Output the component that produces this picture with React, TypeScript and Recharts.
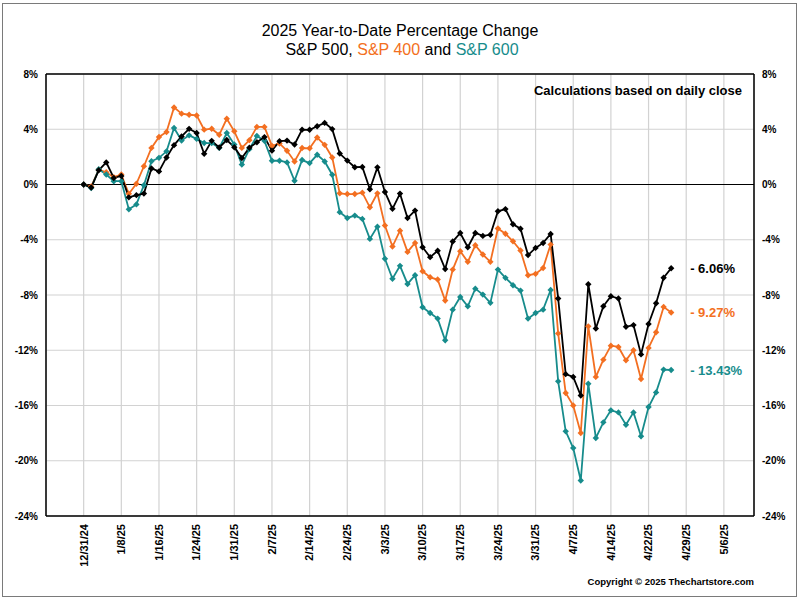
import React from "react";
import {
  LineChart,
  Line,
  XAxis,
  YAxis,
  CartesianGrid,
  ReferenceLine,
  LabelList,
} from "recharts";

// trading days, 12/31/24 .. 4/25/25
const dates = [
  "12/31/24", "1/2/25", "1/3/25", "1/6/25", "1/7/25", "1/8/25", "1/10/25", "1/13/25", "1/14/25", "1/15/25",
  "1/16/25", "1/17/25", "1/21/25", "1/22/25", "1/23/25", "1/24/25", "1/27/25", "1/28/25", "1/29/25", "1/30/25",
  "1/31/25", "2/3/25", "2/4/25", "2/5/25", "2/6/25", "2/7/25", "2/10/25", "2/11/25", "2/12/25", "2/13/25",
  "2/14/25", "2/18/25", "2/19/25", "2/20/25", "2/21/25", "2/24/25", "2/25/25", "2/26/25", "2/27/25", "2/28/25",
  "3/3/25", "3/4/25", "3/5/25", "3/6/25", "3/7/25", "3/10/25", "3/11/25", "3/12/25", "3/13/25", "3/14/25",
  "3/17/25", "3/18/25", "3/19/25", "3/20/25", "3/21/25", "3/24/25", "3/25/25", "3/26/25", "3/27/25", "3/28/25",
  "3/31/25", "4/1/25", "4/2/25", "4/3/25", "4/4/25", "4/7/25", "4/8/25", "4/9/25", "4/10/25", "4/11/25",
  "4/14/25", "4/15/25", "4/16/25", "4/17/25", "4/21/25", "4/22/25", "4/23/25", "4/24/25", "4/25/25",
];

const sp500 = [
  0, -0.22, 1.03, 1.6, 0.47, 0.62, -0.93, -0.77, -0.66, 1.16,
  0.95, 1.96, 2.85, 3.48, 4.03, 3.73, 2.22, 3.16, 2.68, 3.22,
  2.7, 1.92, 2.66, 3.06, 3.43, 2.45, 3.14, 3.18, 2.9, 3.97,
  3.96, 4.22, 4.46, 4.01, 2.24, 1.73, 1.25, 1.27, -0.34, 1.24,
  -0.54, -1.76, -0.66, -2.43, -1.89, -4.54, -5.26, -4.8, -6.12, -4.13,
  -3.51, -4.54, -3.51, -3.72, -3.64, -1.94, -1.78, -2.88, -3.2, -5.11,
  -4.59, -4.23, -3.58, -8.25, -13.73, -13.93, -15.28, -7.22, -10.43, -8.81,
  -8.09, -8.25, -10.3, -10.18, -12.3, -10.1, -8.6, -6.75, -6.06,
];

const sp400 = [
  0, -0.15, 1.08, 0.89, 0.53, 0.72, -0.67, 0.05, 1.32, 2.65,
  3.44, 3.8, 5.58, 5.13, 5.05, 5.0, 3.97, 4.04, 3.6, 4.76,
  3.85, 2.65, 3.21, 4.17, 4.17, 2.8, 2.97, 2.44, 1.67, 2.64,
  2.62, 3.4, 2.87, 1.96, -0.64, -0.69, -0.69, -0.59, -1.65, -0.64,
  -2.97, -4.49, -3.34, -4.88, -4.23, -6.28, -6.72, -6.88, -8.4, -6.16,
  -4.83, -5.6, -4.4, -5.07, -5.6, -3.19, -3.57, -4.11, -4.78, -6.57,
  -6.47, -6.04, -4.35, -10.78, -15.1, -16.0, -17.99, -10.27, -13.93, -12.68,
  -11.67, -11.76, -12.73, -12.0, -14.08, -11.83, -10.7, -8.86, -9.27,
];

const sp600 = [
  0, -0.25, 1.1, 0.72, 0.24, 0.24, -1.8, -1.44, -0.05, 1.68,
  1.93, 2.4, 4.09, 3.18, 3.56, 3.3, 3.0, 3.0, 2.65, 3.73,
  2.9, 1.44, 2.56, 3.52, 3.16, 1.72, 1.72, 1.6, 0.27, 1.77,
  1.55, 2.15, 1.67, 0.71, -2.0, -2.42, -2.25, -2.49, -3.94, -3.05,
  -5.38, -6.82, -5.89, -7.2, -6.57, -8.89, -9.3, -9.71, -11.28, -9.06,
  -8.14, -8.82, -7.54, -7.97, -8.57, -6.16, -6.76, -7.29, -7.68, -9.71,
  -9.3, -9.06, -7.64, -14.25, -17.87, -19.08, -21.43, -14.42, -18.35, -17.22,
  -16.35, -16.5, -17.4, -16.5, -18.23, -16.11, -15.05, -13.4, -13.43,
];

// one label every 5 trading days
const tickLabels = [
  "12/31/24", "1/8/25", "1/16/25", "1/24/25", "1/31/25", "2/7/25", "2/14/25", "2/24/25", "3/3/25",
  "3/10/25", "3/17/25", "3/24/25", "3/31/25", "4/7/25", "4/14/25", "4/22/25", "4/29/25", "5/6/25",
];
const yTicks = [8, 4, 0, -4, -8, -12, -16, -20, -24];

const BLACK = "#000000";
const ORANGE = "#f36f21";
const TEAL = "#178c8c";
const FONT = "Arial, 'Liberation Sans', sans-serif";

const data = dates.map((date, i) => ({
  i,
  date,
  sp500: sp500[i],
  sp400: sp400[i],
  sp600: sp600[i],
}));
const xTicks = tickLabels.map((_, k) => k * 5);
const last = dates.length - 1;

// small tick marks: every half label step on x, every 1% on y
const xMinorTicks = Array.from({ length: 37 }, (_, k) => -2.5 + k * 2.5);
const yMinorTicks = Array.from({ length: 33 }, (_, k) => 8 - k);

const diamond = (color: string) => (props: any) => {
  const { cx, cy, index } = props;
  if (cx == null || cy == null) return <g key={`d-${index}`} />;
  const s = 3.2;
  return (
    <path
      key={`d-${index}`}
      d={`M${cx},${cy - s}L${cx + s},${cy}L${cx},${cy + s}L${cx - s},${cy}Z`}
      fill={color}
    />
  );
};

const endLabel = (color: string) => (props: any) => {
  const { x, y, value, index } = props;
  if (index !== last) return null;
  return (
    <text
      x={Number(x) + 19}
      y={Number(y)}
      dy="0.35em"
      fill={color}
      fontSize={13}
      fontWeight="bold"
      fontFamily={FONT}
    >
      {`- ${Math.abs(Number(value)).toFixed(2)}%`}
    </text>
  );
};

const XTick = (props: any) => {
  const { x, y, payload } = props;
  const label = tickLabels[Math.round(payload.value / 5)] ?? "";
  return (
    <text
      x={x}
      y={y + 2}
      dy="0.35em"
      textAnchor="end"
      transform={`rotate(-90 ${x} ${y + 2})`}
      fontSize={11}
      fontWeight="bold"
      fontFamily={FONT}
      fill="#000"
    >
      {label}
    </text>
  );
};

const yTickStyle = { fontSize: 10, fontWeight: "bold", fill: "#000", fontFamily: FONT };

export default function App() {
  return (
    <div style={{ position: "relative", width: 800, height: 600, fontFamily: FONT, background: "#fff" }}>
      <style>{"body{margin:0}"}</style>
      <LineChart
        width={800}
        height={600}
        data={data}
        margin={{ top: 74, right: 0, bottom: 0, left: 0 }}
      >
        <CartesianGrid stroke="#d2d2d2" strokeWidth={1.2} />
        <XAxis
          xAxisId="minor"
          type="number"
          domain={[-5, 89]}
          ticks={xMinorTicks}
          interval={0}
          height={0}
          mirror
          axisLine={false}
          tick={false}
          tickLine={{ stroke: BLACK }}
          tickSize={3}
          allowDataOverflow
        />
        <XAxis
          type="number"
          dataKey="i"
          domain={[-5, 89]}
          ticks={xTicks}
          interval={0}
          height={84}
          axisLine={{ stroke: BLACK, strokeWidth: 1.5 }}
          tickLine={false}
          tickSize={4}
          tick={<XTick />}
          allowDataOverflow
        />
        <YAxis
          yAxisId="minorLeft"
          domain={[-24, 8]}
          ticks={yMinorTicks}
          interval={0}
          width={0}
          mirror
          axisLine={false}
          tick={false}
          tickLine={{ stroke: BLACK }}
          tickSize={4}
          allowDataOverflow
        />
        <YAxis
          domain={[-24, 8]}
          ticks={yTicks}
          interval={0}
          width={46}
          axisLine={{ stroke: BLACK, strokeWidth: 1.5 }}
          tickLine={false}
          tickSize={0}
          tickMargin={8}
          tick={yTickStyle}
          tickFormatter={(v: number) => `${v}%`}
          allowDataOverflow
        />
        <YAxis
          yAxisId="minorRight"
          orientation="right"
          domain={[-24, 8]}
          ticks={yMinorTicks}
          interval={0}
          width={0}
          mirror
          axisLine={false}
          tick={false}
          tickLine={{ stroke: BLACK }}
          tickSize={4}
          allowDataOverflow
        />
        <YAxis
          yAxisId="right"
          orientation="right"
          domain={[-24, 8]}
          ticks={yTicks}
          interval={0}
          width={46}
          axisLine={{ stroke: BLACK, strokeWidth: 1.5 }}
          tickLine={false}
          tickSize={0}
          tickMargin={8}
          tick={yTickStyle}
          tickFormatter={(v: number) => `${v}%`}
          allowDataOverflow
        />
        <ReferenceLine y={0} stroke={BLACK} strokeWidth={1.2} />
        <ReferenceLine y={8} stroke={BLACK} strokeWidth={1.5} />
        <Line
          dataKey="sp400"
          stroke={ORANGE}
          strokeWidth={1.8}
          dot={diamond(ORANGE)}
          activeDot={false}
          isAnimationActive={false}
        >
          <LabelList dataKey="sp400" content={endLabel(ORANGE)} />
        </Line>
        <Line
          dataKey="sp600"
          stroke={TEAL}
          strokeWidth={1.8}
          dot={diamond(TEAL)}
          activeDot={false}
          isAnimationActive={false}
        >
          <LabelList dataKey="sp600" content={endLabel(TEAL)} />
        </Line>
        <Line
          dataKey="sp500"
          stroke={BLACK}
          strokeWidth={1.8}
          dot={diamond(BLACK)}
          activeDot={false}
          isAnimationActive={false}
        >
          <LabelList dataKey="sp500" content={endLabel(BLACK)} />
        </Line>
      </LineChart>

      <div
        style={{
          position: "absolute",
          left: 2,
          top: 3,
          width: 795,
          height: 594,
          boxSizing: "border-box",
          border: "1.5px solid #7a7a7a",
          pointerEvents: "none",
        }}
      />
      <div style={{ position: "absolute", left: 0, top: 21, width: 800, textAlign: "center", fontSize: 16, lineHeight: "19px", color: "#000" }}>
        2025 Year-to-Date Percentage Change
      </div>
      <div style={{ position: "absolute", left: 2, top: 40, width: 800, textAlign: "center", fontSize: 16, lineHeight: "19px", color: "#000" }}>
        S&amp;P 500, <span style={{ color: ORANGE }}>S&amp;P 400</span> and{" "}
        <span style={{ color: TEAL }}>S&amp;P 600</span>
      </div>
      <div style={{ position: "absolute", right: 58, top: 83, fontSize: 13, lineHeight: "16px", fontWeight: "bold", color: "#000" }}>
        Calculations based on daily close
      </div>
      <div style={{ position: "absolute", right: 46, top: 576, fontSize: 9.5, lineHeight: "12px", fontWeight: "bold", color: "#000" }}>
        Copyright © 2025 Thechartstore.com
      </div>
    </div>
  );
}
